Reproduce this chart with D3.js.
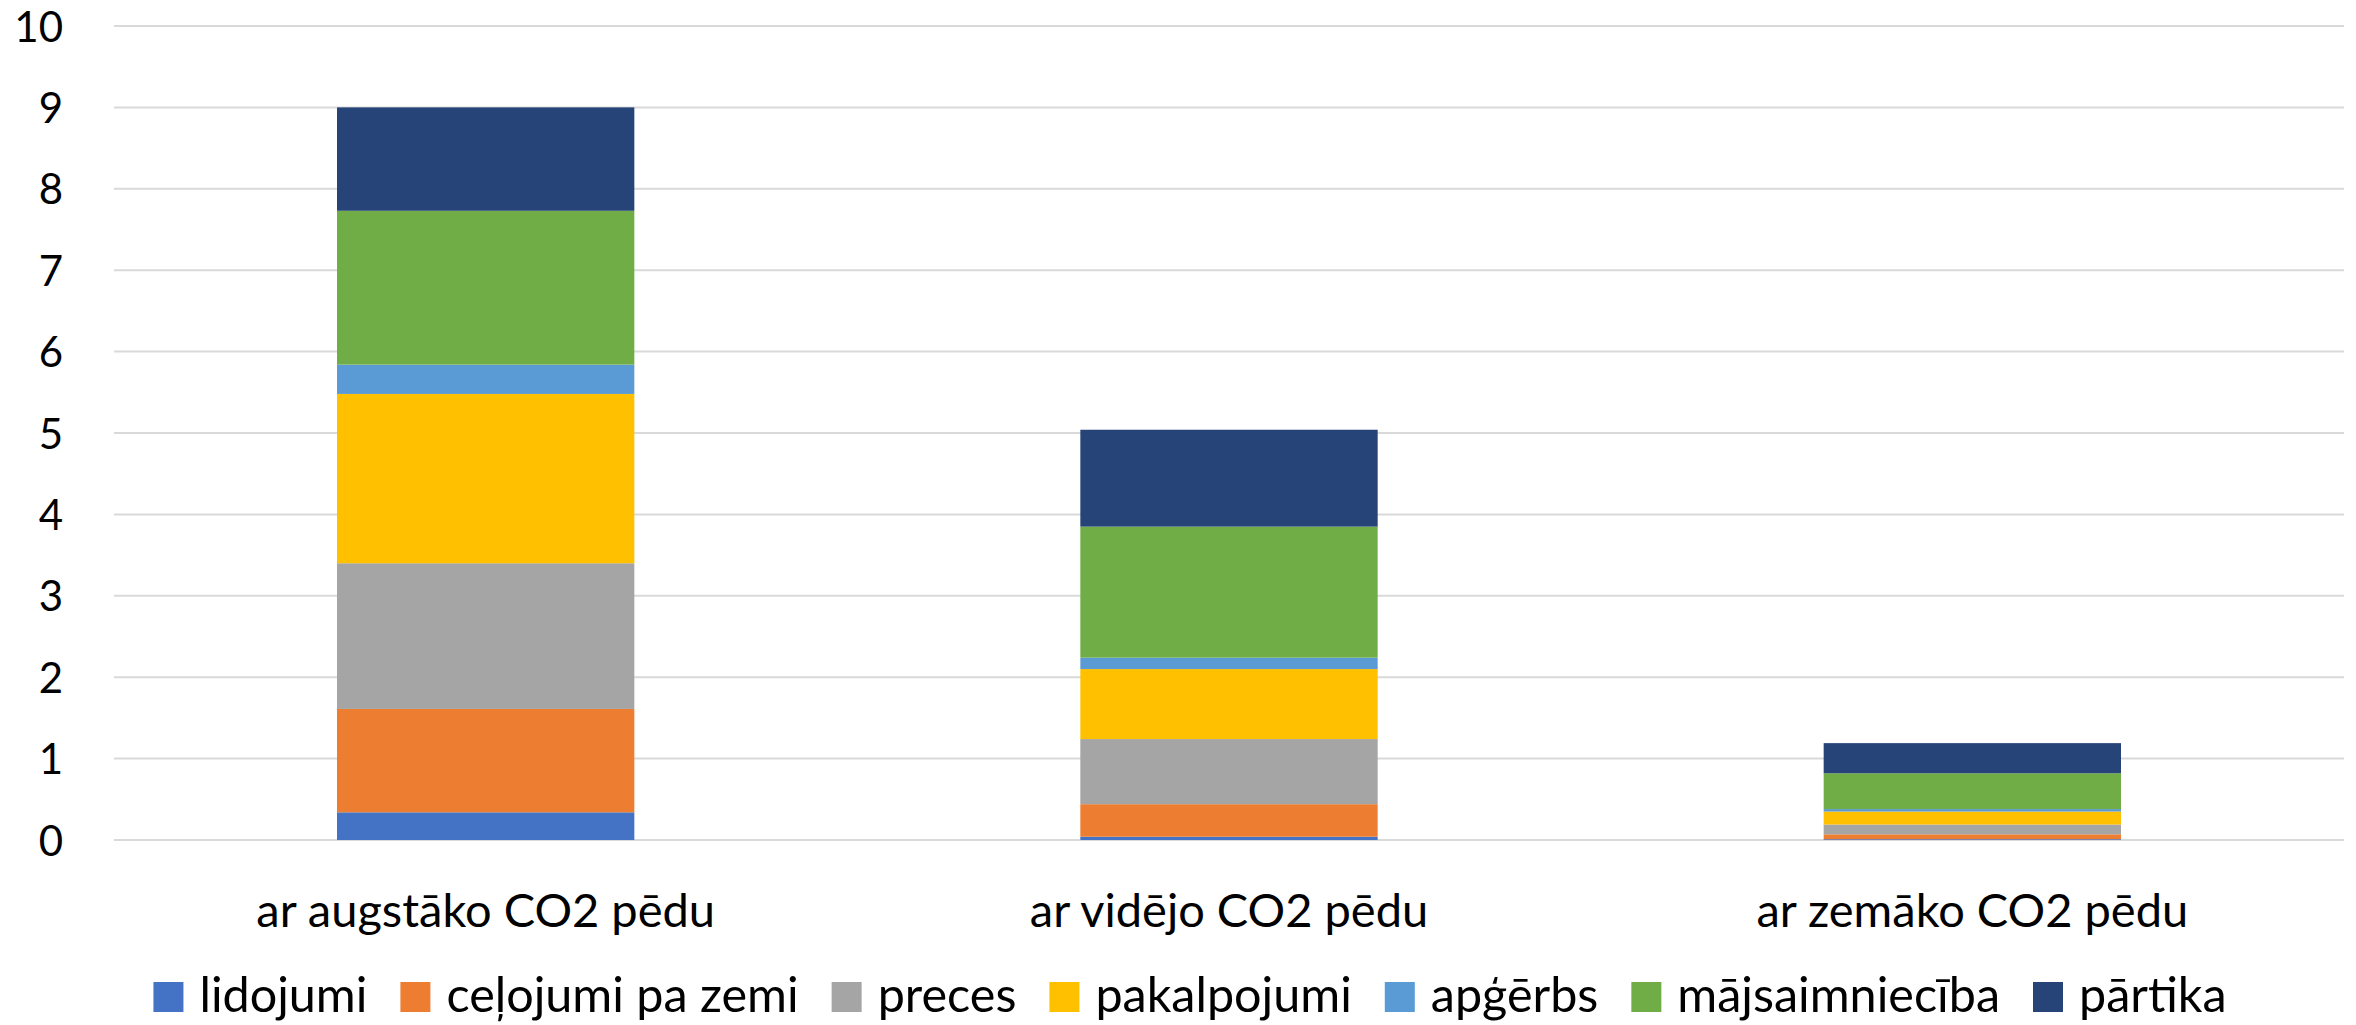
<!DOCTYPE html>
<html>
<head>
<meta charset="utf-8">
<script src="https://cdn.jsdelivr.net/npm/d3@7"></script>
<style>
  body { margin: 0; background: #fff; }
  text { font-family: Lato, "Open Sans", sans-serif; fill: #000; }
  .grid line { stroke: #d9d9d9; stroke-width: 2; }
</style>
</head>
<body>
<div id="chart"></div>
<script>
// categories and series
const categories = ['ar augstāko CO2 pēdu', 'ar vidējo CO2 pēdu', 'ar zemāko CO2 pēdu'];
const seriesNames = ['lidojumi', 'ceļojumi pa zemi', 'preces', 'pakalpojumi', 'apģērbs', 'mājsaimniecība', 'pārtika'];
const lidojumi = [0.34, 0.04, 0.01];
const celojumi = [1.27, 0.40, 0.06];
const preces = [1.79, 0.80, 0.12];
const pakalpojumi = [2.08, 0.86, 0.16];
const apgerbs = [0.36, 0.14, 0.03];
const majsaimnieciba = [1.89, 1.61, 0.44];
const partika = [1.27, 1.19, 0.37];
const yTicks = [0, 1, 2, 3, 4, 5, 6, 7, 8, 9, 10];
const colors = ['#4472c4', '#ed7d31', '#a5a5a5', '#ffc000', '#5b9bd5', '#70ad47', '#264478'];

const allSeries = [lidojumi, celojumi, preces, pakalpojumi, apgerbs, majsaimnieciba, partika];

const width = 2356, height = 1025;
const margin = { top: 26, right: 12, bottom: 185, left: 114 };
const innerW = width - margin.left - margin.right;
const innerH = height - margin.top - margin.bottom;

const svg = d3.select('#chart').append('svg')
  .attr('width', width)
  .attr('height', height);

const chart = svg.append('g')
  .attr('transform', `translate(${margin.left},${margin.top})`);

// build rows for the stack
const rows = categories.map((c, i) => {
  const r = { category: c };
  seriesNames.forEach((s, j) => { r[s] = allSeries[j][i]; });
  return r;
});
const stacked = d3.stack().keys(seriesNames)(rows);

const x = d3.scaleBand()
  .domain(categories)
  .range([0, innerW])
  .paddingInner(0.6)
  .paddingOuter(0.3);

const y = d3.scaleLinear()
  .domain([0, 10])
  .range([innerH, 0]);

// gridlines
chart.append('g')
  .attr('class', 'grid')
  .selectAll('line')
  .data(yTicks)
  .join('line')
  .attr('x1', 0)
  .attr('x2', innerW)
  .attr('y1', d => y(d))
  .attr('y2', d => y(d));

// y axis labels
const yAxis = d3.axisLeft(y).tickValues(yTicks).tickSize(0).tickPadding(51);
chart.append('g')
  .call(yAxis)
  .call(g => g.select('.domain').remove())
  .selectAll('text')
  .style('font-size', '42px')
  .attr('dy', '0.36em');

// bars
chart.append('g')
  .selectAll('g')
  .data(stacked)
  .join('g')
  .attr('fill', (d, i) => colors[i])
  .selectAll('rect')
  .data(d => d)
  .join('rect')
  .attr('x', d => x(d.data.category))
  .attr('width', x.bandwidth())
  .attr('y', d => y(d[1]))
  .attr('height', d => y(d[0]) - y(d[1]));

// x axis labels
const xAxis = d3.axisBottom(x).tickSize(0).tickPadding(54);
chart.append('g')
  .attr('transform', `translate(0,${innerH})`)
  .call(xAxis)
  .call(g => g.select('.domain').remove())
  .selectAll('text')
  .style('font-size', '47px');

// legend, laid out by measured text widths and centered
const legend = svg.append('g');
const items = legend.selectAll('g')
  .data(seriesNames)
  .join('g');
items.append('rect')
  .attr('width', 30)
  .attr('height', 30)
  .attr('y', -30)
  .attr('fill', (d, i) => colors[i]);
items.append('text')
  .attr('x', 46)
  .style('font-size', '48.5px')
  .text(d => d);

let offset = 0;
items.each(function() {
  const w = d3.select(this).select('text').node().getComputedTextLength();
  d3.select(this).attr('transform', `translate(${offset},0)`);
  offset += 46 + w + 33;
});
const legendW = offset - 33;
legend.attr('transform', `translate(${(width - legendW) / 2 + 12},1012)`);
</script>
</body>
</html>
